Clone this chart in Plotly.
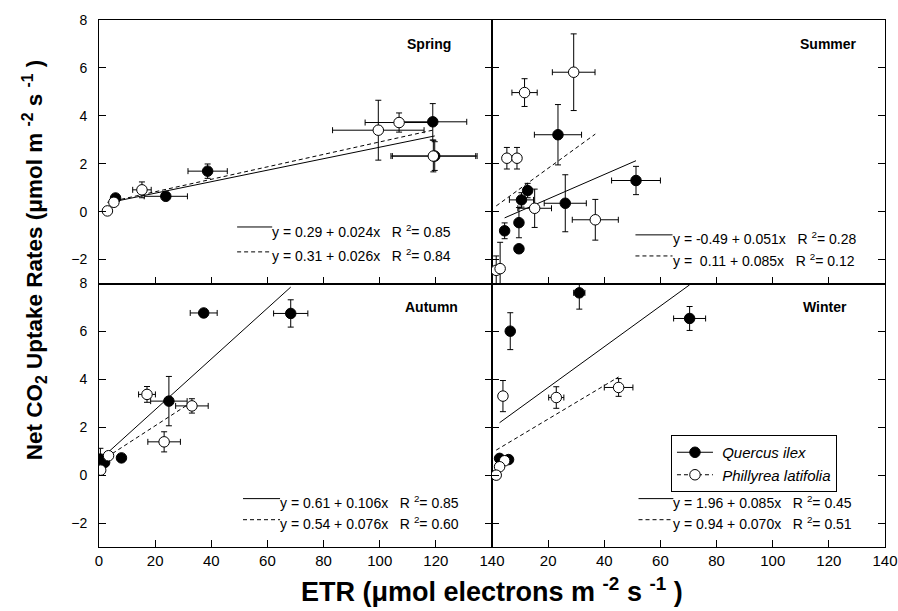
import numpy as np
import plotly.graph_objects as go

# ---------------- data ----------------
seasons = ["Spring", "Summer", "Autumn", "Winter"]

# Quercus ilex (filled circles)
qi_x = {
    "Spring": [5.9, 23.8, 38.7, 118.9, 119.6],
    "Summer": [23.5, 51.3, 12.7, 10.5, 26.1, 9.6, 4.5, 9.6],
    "Autumn": [37.3, 68.3, 24.9, 0.5, 2.0, 8.0],
    "Winter": [31.1, 70.4, 6.5, 2.7, 5.9],
}
qi_y = {
    "Spring": [0.57, 0.64, 1.69, 3.75, 2.32],
    "Summer": [3.21, 1.30, 0.88, 0.49, 0.35, -0.46, -0.80, -1.55],
    "Autumn": [6.77, 6.75, 3.09, 0.67, 0.53, 0.72],
    "Winter": [7.61, 6.54, 6.01, 0.70, 0.65],
}
qi_xerr = {
    "Spring": [0.5, 7.7, 7.0, 12.1, 15.1],
    "Summer": [8.4, 8.7, 1.0, 4.3, 7.5, 0.5, 0.5, 1.0],
    "Autumn": [4.8, 6.1, 6.5, 0.5, 0.5, 1.0],
    "Winter": [2.0, 5.7, 0.5, 0.5, 0.5],
}
qi_yerr = {
    "Spring": [0.1, 0.1, 0.3, 0.76, 0.6],
    "Summer": [1.26, 0.59, 0.3, 0.3, 1.19, 0.63, 0.33, 0.1],
    "Autumn": [0.1, 0.57, 1.03, 0.45, 0.1, 0.1],
    "Winter": [0.68, 0.5, 0.77, 0.1, 0.1],
}

# Phillyrea latifolia (open circles)
pl_x = {
    "Spring": [3.0, 5.3, 15.3, 99.5, 106.9, 119.1],
    "Summer": [29.1, 11.6, 5.3, 8.9, 15.2, 36.8, 1.5, 2.9],
    "Autumn": [17.1, 33.1, 23.2, 3.4, 0.6],
    "Winter": [45.1, 3.9, 22.9, 4.5, 2.7, 1.5],
}
pl_y = {
    "Spring": [0.03, 0.39, 0.91, 3.40, 3.72, 2.32],
    "Summer": [5.82, 4.97, 2.23, 2.23, 0.14, -0.34, -2.45, -2.38],
    "Autumn": [3.37, 2.89, 1.39, 0.81, 0.21],
    "Winter": [3.66, 3.30, 3.24, 0.60, 0.35, 0.0],
}
pl_xerr = {
    "Spring": [0.5, 0.5, 3.3, 16.3, 12.1, 15.1],
    "Summer": [7.6, 4.5, 0.5, 0.5, 6.0, 8.2, 0.5, 0.5],
    "Autumn": [3.0, 5.8, 5.8, 0.5, 0.5],
    "Winter": [5.1, 0.5, 2.7, 0.5, 0.5, 0.5],
}
pl_yerr = {
    "Spring": [0.1, 0.1, 0.33, 1.25, 0.4, 0.66],
    "Summer": [1.6, 0.58, 0.45, 0.45, 0.8, 0.85, 0.6, 1.1],
    "Autumn": [0.33, 0.3, 0.42, 0.1, 0.1],
    "Winter": [0.37, 0.65, 0.45, 0.1, 0.1, 0.1],
}

# regression coefficients: intercept, slope, R2
qi_fit = {"Spring": (0.29, 0.024, 0.85), "Summer": (-0.49, 0.051, 0.28),
          "Autumn": (0.61, 0.106, 0.85), "Winter": (1.96, 0.085, 0.45)}
pl_fit = {"Spring": (0.31, 0.026, 0.84), "Summer": (0.11, 0.085, 0.12),
          "Autumn": (0.54, 0.076, 0.60), "Winter": (0.94, 0.070, 0.51)}

x_ticks = [0, 20, 40, 60, 80, 100, 120, 140]
y_ticks = [-2, 0, 2, 4, 6, 8]

# ---------------- figure ----------------
axes = {"Spring": ("x", "y"), "Summer": ("x2", "y2"),
        "Autumn": ("x3", "y3"), "Winter": ("x4", "y4")}

fig = go.Figure()
NBSP = "\u00a0"
DASH = "4px,3px"
FONT = "Arial, Liberation Sans, sans-serif"

for s in seasons:
    xa, ya = axes[s]
    # regression lines
    for fit, xs, dash in ((qi_fit[s], qi_x[s], "solid"), (pl_fit[s], pl_x[s], DASH)):
        a, b, _ = fit
        xr = np.array([min(xs), max(xs)])
        fig.add_trace(go.Scatter(x=xr, y=a + b * xr, mode="lines", xaxis=xa, yaxis=ya,
                                 line=dict(color="black", width=1, dash=dash),
                                 showlegend=False, hoverinfo="skip"))
    # points
    for xs, ys, xe, ye, fill in ((qi_x[s], qi_y[s], qi_xerr[s], qi_yerr[s], "black"),
                                 (pl_x[s], pl_y[s], pl_xerr[s], pl_yerr[s], "white")):
        fig.add_trace(go.Scatter(
            x=xs, y=ys, mode="markers", xaxis=xa, yaxis=ya, showlegend=False,
            marker=dict(size=10.5, color=fill, line=dict(color="black", width=1)),
            error_x=dict(type="data", array=xe, color="black", thickness=1, width=3),
            error_y=dict(type="data", array=ye, color="black", thickness=1, width=3),
        ))

# legend entries
fig.add_trace(go.Scatter(x=[None], y=[None], mode="lines+markers",
                         name=NBSP + "<i>Quercus ilex</i>",
                         xaxis="x4", yaxis="y4",
                         line=dict(color="black", width=1),
                         marker=dict(size=10.5, color="black", line=dict(color="black", width=1))))
fig.add_trace(go.Scatter(x=[None], y=[None], mode="lines+markers",
                         name=NBSP + "<i>Phillyrea latifolia</i>",
                         xaxis="x4", yaxis="y4",
                         line=dict(color="black", width=1, dash=DASH),
                         marker=dict(size=10.5, color="white", line=dict(color="black", width=1))))

# annotations: season labels and equations
label_pos = {"Spring": (126.2, 7.0), "Summer": (130.6, 7.0),
             "Autumn": (128.7, 7.0), "Winter": (127.0, 7.0)}
eq_pos = {"Spring": (49.2, 61.7, -0.79, -1.83), "Summer": (51.1, 64.3, -1.12, -2.0),
          "Autumn": (51.3, 64.5, -1.13, -2.01), "Winter": (52.2, 64.6, -1.13, -2.01)}

annotations = []
shapes = []
for s in seasons:
    xa, ya = axes[s]
    lx, ly = label_pos[s]
    annotations.append(dict(x=lx, y=ly, xref=xa, yref=ya, text="<b>%s</b>" % s, showarrow=False,
                            xanchor="right", yanchor="middle",
                            font=dict(family=FONT, size=14, color="black")))
    x0, x1, y1, y2 = eq_pos[s]
    neg = any(f[0] < 0 for f in (qi_fit[s], pl_fit[s]))
    for (a, b, r2), yy, dash in ((qi_fit[s], y1, "solid"), (pl_fit[s], y2, DASH)):
        inter = "%.2f" % a
        if neg and a >= 0:
            inter = NBSP + inter
        txt = "y%s=%s%s + %.3fx%sR <sup>2</sup>=%s%.2f" % (NBSP, NBSP, inter, b, NBSP * 3, NBSP, r2)
        annotations.append(dict(x=x1, y=yy, xref=xa, yref=ya, text=txt, showarrow=False,
                                xanchor="left", yanchor="middle", xshift=-2,
                                font=dict(family=FONT, size=14, color="black")))
        shapes.append(dict(type="line", xref=xa, yref=ya, x0=x0, x1=x1, y0=yy + 0.15, y1=yy + 0.15,
                           line=dict(color="black", width=1, dash=dash)))

# axis titles
annotations.append(dict(xref="paper", yref="paper", x=-0.082, y=0.545, textangle=-90,
                        text="<b>Net CO<sub>2</sub> Uptake Rates (μmol m <sup>-2</sup> s <sup>-1</sup> )</b>",
                        showarrow=False, xanchor="center", yanchor="middle",
                        font=dict(family=FONT, size=22.5, color="black")))
annotations.append(dict(xref="paper", yref="paper", x=0.5, y=-0.082,
                        text="<b>ETR (μmol electrons m <sup>-2</sup> s <sup>-1</sup> )</b>",
                        showarrow=False, xanchor="center", yanchor="middle",
                        font=dict(family=FONT, size=27, color="black")))

common_x = dict(range=[0, 140], tickmode="array", tickvals=x_ticks, ticks="inside", ticklen=7,
                tickcolor="black", showline=True, linecolor="black", linewidth=1, mirror=True,
                showgrid=False, zeroline=False, automargin=False,
                tickfont=dict(family=FONT, size=15, color="black"))
common_y = dict(range=[-3, 8], tickmode="array", tickvals=y_ticks, ticks="inside", ticklen=7,
                tickcolor="black", showline=True, linecolor="black", linewidth=1, mirror="ticks",
                showgrid=False, zeroline=False, ticklabelstandoff=8, automargin=False,
                tickfont=dict(family=FONT, size=14, color="black"))

fig.update_layout(
    width=898, height=611,
    margin=dict(l=99, r=13, t=20, b=64, autoexpand=False),
    paper_bgcolor="white", plot_bgcolor="white",
    showlegend=True,
    legend=dict(x=0.7277, y=0.2125, xanchor="left", yanchor="top",
                bgcolor="white", bordercolor="black", borderwidth=1,
                font=dict(family=FONT, size=15, color="black"),
                tracegroupgap=0, itemwidth=36),
    xaxis=dict(common_x, domain=[0, 0.5], anchor="y", showticklabels=False),
    yaxis=dict(common_y, domain=[0.5, 1], anchor="x"),
    xaxis2=dict(common_x, domain=[0.5, 1], anchor="y2", showticklabels=False),
    yaxis2=dict(common_y, domain=[0.5, 1], anchor="x2", showticklabels=False),
    xaxis3=dict(common_x, domain=[0, 0.5], anchor="y3"),
    yaxis3=dict(common_y, domain=[0, 0.5], anchor="x3"),
    xaxis4=dict(common_x, domain=[0.5, 1], anchor="y4",
                ticktext=[""] + [str(v) for v in x_ticks[1:]]),
    yaxis4=dict(common_y, domain=[0, 0.5], anchor="x4", showticklabels=False),
    annotations=annotations,
    shapes=shapes,
)

fig.write_html("out.html")
